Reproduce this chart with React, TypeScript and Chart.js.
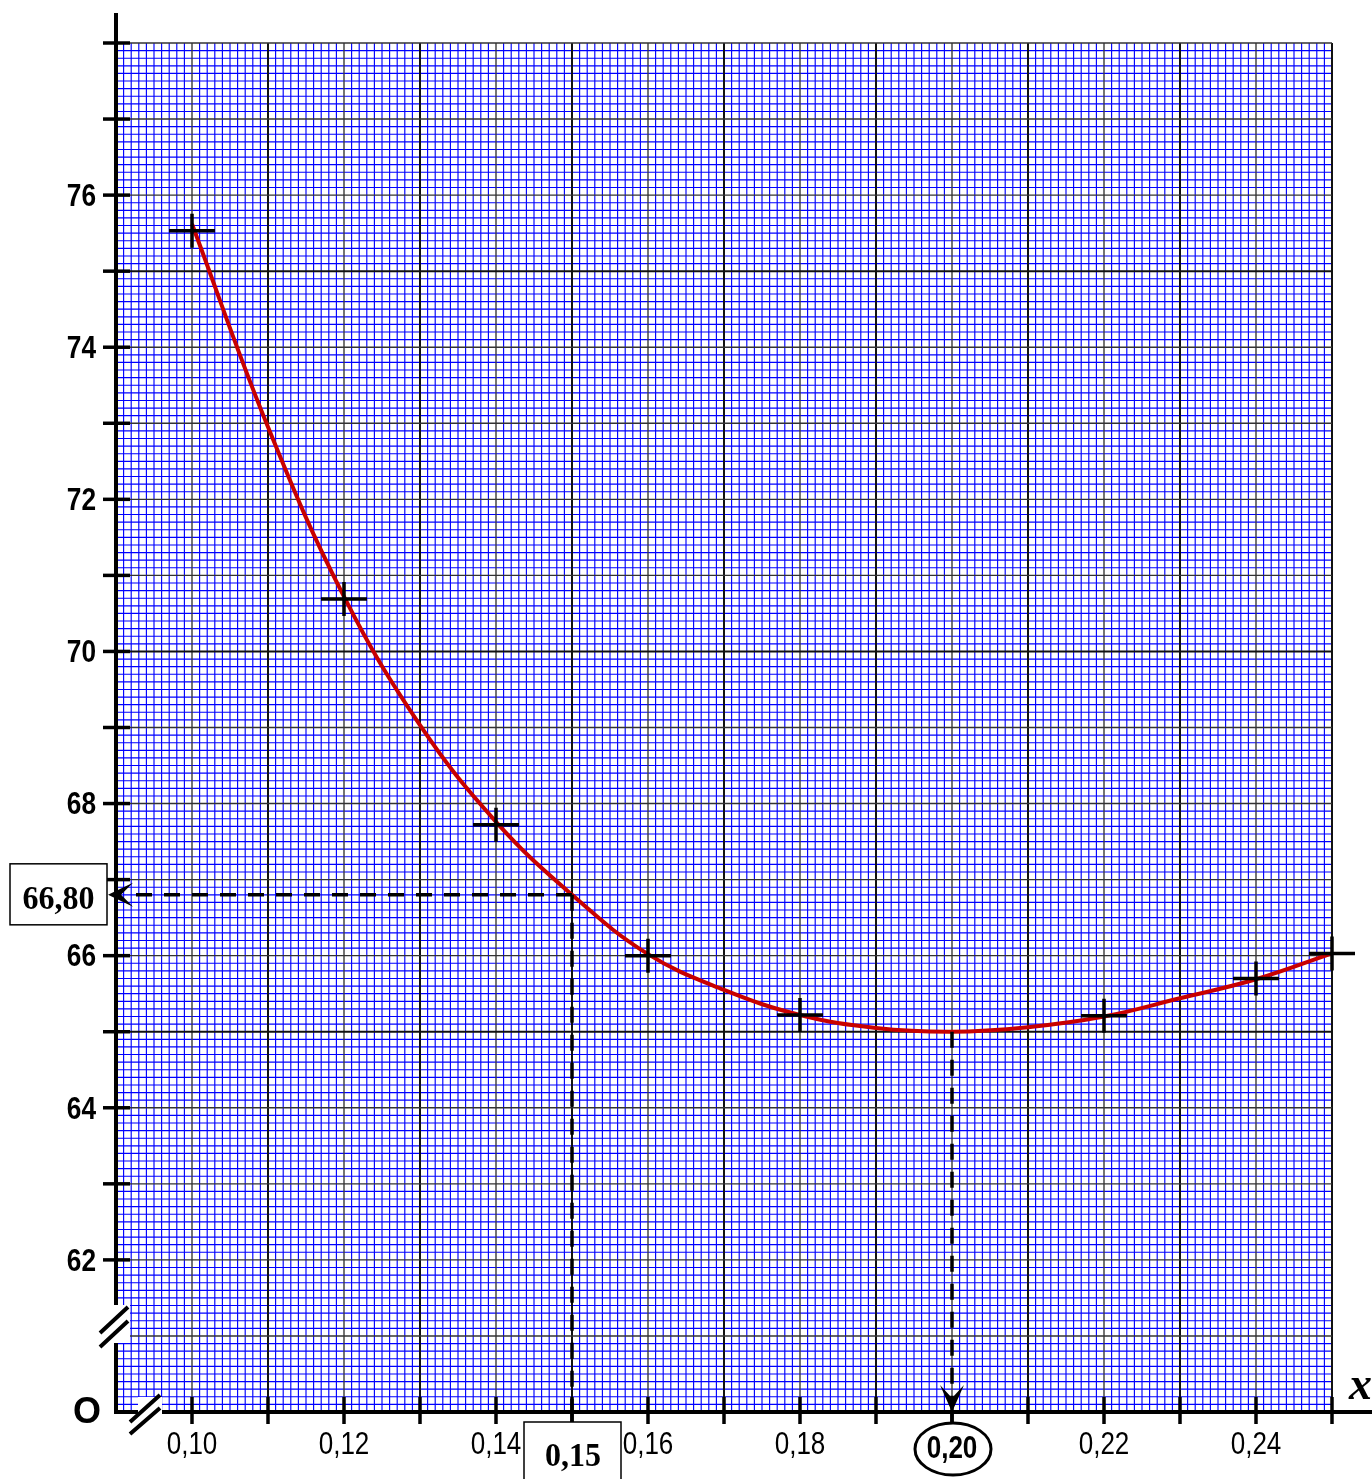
import { useEffect, useRef } from "react";
import { Chart, registerables } from "chart.js";

Chart.register(...registerables);

// ---- data ----
const curveX = [0.10, 0.11, 0.12, 0.13, 0.14, 0.15, 0.16, 0.17, 0.18, 0.19, 0.20, 0.21, 0.22, 0.23, 0.24, 0.25];
const curveY = [75.62, 72.95, 70.72, 69.03, 67.76, 66.80, 66.02, 65.55, 65.22, 65.05, 65.00, 65.06, 65.20, 65.44, 65.69, 66.03];

const pointX = [0.10, 0.12, 0.14, 0.16, 0.18, 0.22, 0.24, 0.25];
const pointY = [75.53, 70.69, 67.72, 66.00, 65.22, 65.21, 65.70, 66.03];

const yTickValues = [62, 64, 66, 68, 70, 72, 74, 76];
const yTickLabels = ["62", "64", "66", "68", "70", "72", "74", "76"];
const xTickValues = [0.10, 0.12, 0.14, 0.16, 0.18, 0.22, 0.24];
const xTickLabels = ["0,10", "0,12", "0,14", "0,16", "0,18", "0,22", "0,24"];

const readX = 0.15;
const readY = 66.8;
const readXLabel = "0,15";
const readYLabel = "66,80";
const minX = 0.20;
const minY = 65.0;
const minXLabel = "0,20";

const X_MIN = 0.09;
const X_MAX = 0.25;
const Y_MIN = 60;
const Y_MAX = 78;

const SANS = "'Liberation Sans', Arial, sans-serif";
const SERIF = "'Liberation Serif', 'Times New Roman', serif";

function narrowText(
  ctx: CanvasRenderingContext2D,
  text: string,
  x: number,
  y: number,
  font: string,
  sx: number,
  align: CanvasTextAlign
) {
  ctx.save();
  ctx.font = font;
  ctx.textAlign = align;
  ctx.textBaseline = "middle";
  ctx.translate(x, y);
  ctx.scale(sx, 1);
  ctx.fillText(text, 0, 0);
  ctx.restore();
}

function chevron(ctx: CanvasRenderingContext2D, tx: number, ty: number, dir: "left" | "down") {
  ctx.save();
  ctx.fillStyle = "#000";
  ctx.beginPath();
  if (dir === "left") {
    ctx.moveTo(tx, ty);
    ctx.lineTo(tx + 25, ty - 12);
    ctx.lineTo(tx + 13, ty);
    ctx.lineTo(tx + 25, ty + 12);
  } else {
    ctx.moveTo(tx, ty);
    ctx.lineTo(tx - 12, ty - 27);
    ctx.lineTo(tx, ty - 14);
    ctx.lineTo(tx + 12, ty - 27);
  }
  ctx.closePath();
  ctx.fill();
  ctx.restore();
}

const paperPlugin = {
  id: "paper",
  beforeDatasetsDraw(chart: any) {
    const ctx: CanvasRenderingContext2D = chart.ctx;
    const xs = chart.scales.x;
    const ys = chart.scales.y;
    const { left, right, top, bottom } = chart.chartArea;
    ctx.save();
    ctx.fillStyle = "#fff";
    ctx.fillRect(left, top, right - left, bottom - top);
    // fine blue grid
    ctx.strokeStyle = "rgb(0,0,255)";
    ctx.lineWidth = 1.15;
    const nx = Math.round((X_MAX - X_MIN) * 1000);
    for (let i = 0; i <= nx; i++) {
      if (i % 10 === 0) continue;
      const px = xs.getPixelForValue(X_MIN + i / 1000);
      ctx.beginPath();
      ctx.moveTo(px, top);
      ctx.lineTo(px, bottom);
      ctx.stroke();
    }
    const ny = Math.round((Y_MAX - Y_MIN) * 10);
    for (let i = 0; i <= ny; i++) {
      if (i % 10 === 0) continue;
      const py = ys.getPixelForValue(Y_MIN + i / 10);
      ctx.beginPath();
      ctx.moveTo(left, py);
      ctx.lineTo(right, py);
      ctx.stroke();
    }
    // black unit lines
    for (let i = 0; i <= nx; i += 10) {
      const px = xs.getPixelForValue(X_MIN + i / 1000);
      const odd = (i / 10) % 2 === 0;
      ctx.strokeStyle = odd ? "#111" : "#3a3a3a";
      ctx.lineWidth = odd ? 2 : 1.4;
      ctx.beginPath();
      ctx.moveTo(px, top);
      ctx.lineTo(px, bottom);
      ctx.stroke();
    }
    for (let i = 0; i <= ny; i += 10) {
      const v = Y_MIN + i / 10;
      const py = ys.getPixelForValue(v);
      const strong = v % 5 === 0;
      ctx.strokeStyle = strong ? "#111" : "#333";
      ctx.lineWidth = strong ? 2 : 1.4;
      ctx.beginPath();
      ctx.moveTo(left, py);
      ctx.lineTo(right, py);
      ctx.stroke();
    }
    ctx.restore();
  },
  afterDatasetsDraw(chart: any) {
    const ctx: CanvasRenderingContext2D = chart.ctx;
    const xs = chart.scales.x;
    const ys = chart.scales.y;
    const { left, bottom } = chart.chartArea;
    const W = chart.width;
    ctx.save();

    // crosses on measured points
    const meta = chart.getDatasetMeta(1);
    ctx.strokeStyle = "#000";
    ctx.lineWidth = 3.5;
    meta.data.forEach((el: any) => {
      ctx.beginPath();
      ctx.moveTo(el.x - 23, el.y);
      ctx.lineTo(el.x + 23, el.y);
      ctx.moveTo(el.x, el.y - 17);
      ctx.lineTo(el.x, el.y + 17);
      ctx.stroke();
    });

    // dashed reading lines
    const rx = xs.getPixelForValue(readX);
    const ry = ys.getPixelForValue(readY);
    const mx = xs.getPixelForValue(minX);
    const my = ys.getPixelForValue(minY);
    ctx.setLineDash([16, 12]);
    ctx.lineWidth = 3.5;
    ctx.beginPath();
    ctx.moveTo(rx, ry);
    ctx.lineTo(left + 12, ry);
    ctx.moveTo(rx, ry);
    ctx.lineTo(rx, bottom);
    ctx.moveTo(mx, my);
    ctx.lineTo(mx, bottom - 14);
    ctx.stroke();
    ctx.setLineDash([]);

    // axes
    ctx.lineWidth = 4;
    ctx.beginPath();
    ctx.moveTo(left, 13);
    ctx.lineTo(left, bottom + 2);
    ctx.moveTo(left - 2, bottom);
    ctx.lineTo(W, bottom);
    ctx.stroke();

    // y ticks every unit
    ctx.lineWidth = 3.5;
    for (let v = 62; v <= Y_MAX; v++) {
      const py = ys.getPixelForValue(v);
      ctx.beginPath();
      ctx.moveTo(left - 13, py);
      ctx.lineTo(left + 14, py);
      ctx.stroke();
    }
    // x ticks every 0.01
    for (let i = 10; i <= 25; i++) {
      const px = xs.getPixelForValue(i / 100);
      ctx.beginPath();
      ctx.moveTo(px, bottom - 15);
      ctx.lineTo(px, bottom + 12);
      ctx.stroke();
    }
    // connectors to boxes
    ctx.beginPath();
    ctx.moveTo(rx, bottom);
    ctx.lineTo(rx, bottom + 11);
    ctx.moveTo(mx, bottom);
    ctx.lineTo(mx, bottom + 12);
    ctx.stroke();

    // axis breaks
    ctx.fillStyle = "#fff";
    ctx.fillRect(left - 4, 1305, 18, 38);
    ctx.fillRect(138, bottom - 15, 24, 19);
    ctx.lineWidth = 4;
    ctx.beginPath();
    ctx.moveTo(100, 1333);
    ctx.lineTo(128, 1307);
    ctx.moveTo(100, 1347);
    ctx.lineTo(128, 1321);
    ctx.moveTo(130, 1422);
    ctx.lineTo(160, 1395);
    ctx.moveTo(130, 1434);
    ctx.lineTo(160, 1408);
    ctx.stroke();

    // arrowheads
    chevron(ctx, left - 8, ry, "left");
    chevron(ctx, mx, bottom, "down");

    // tick labels
    ctx.fillStyle = "#000";
    yTickValues.forEach((v, i) => {
      narrowText(ctx, yTickLabels[i], left - 20, ys.getPixelForValue(v) + 2, `bold 32px ${SANS}`, 0.82, "right");
    });
    xTickValues.forEach((v, i) => {
      narrowText(ctx, xTickLabels[i], xs.getPixelForValue(v), bottom + 33, `31px ${SANS}`, 0.84, "center");
    });

    // origin
    narrowText(ctx, "O", 87, bottom + 1, `bold 36px ${SANS}`, 1, "center");

    // x label
    ctx.textAlign = "left";
    ctx.textBaseline = "alphabetic";
    ctx.font = `italic bold 46px ${SERIF}`;
    ctx.fillText("x", 1349, bottom - 13);

    // 66,80 box
    ctx.lineWidth = 1.5;
    ctx.fillStyle = "#fff";
    ctx.fillRect(10, ry - 31, 97, 61);
    ctx.strokeRect(10, ry - 31, 97, 61);
    ctx.fillStyle = "#000";
    narrowText(ctx, readYLabel, 58.5, ry + 6, `bold 33px ${SERIF}`, 0.97, "center");

    // 0,15 box
    ctx.fillStyle = "#fff";
    ctx.fillRect(rx - 48, bottom + 10, 97, 70);
    ctx.strokeRect(rx - 48, bottom + 10, 97, 70);
    ctx.fillStyle = "#000";
    narrowText(ctx, readXLabel, rx + 1, bottom + 45, `bold 33px ${SERIF}`, 0.97, "center");

    // 0,20 ellipse
    ctx.lineWidth = 3;
    ctx.beginPath();
    ctx.ellipse(mx + 1, bottom + 37, 38, 26, 0, 0, Math.PI * 2);
    ctx.stroke();
    narrowText(ctx, minXLabel, mx, bottom + 37, `bold 31px ${SANS}`, 0.84, "center");

    ctx.restore();
  },
};

export default function App() {
  const ref = useRef<HTMLCanvasElement | null>(null);
  useEffect(() => {
    document.body.style.margin = "0";
    const canvas = ref.current;
    if (!canvas) return;
    const chart = new Chart(canvas, {
      type: "line",
      data: {
        datasets: [
          {
            label: "curve",
            data: curveX.map((x, i) => ({ x, y: curveY[i] })),
            borderColor: "#c80000",
            borderWidth: 4,
            pointRadius: 0,
            tension: 0.4,
            fill: false,
            clip: false as any,
          },
          {
            label: "points",
            data: pointX.map((x, i) => ({ x, y: pointY[i] })),
            showLine: false,
            pointRadius: 0,
            borderColor: "#000",
            clip: false as any,
          },
        ],
      },
      options: {
        animation: false,
        responsive: false,
        maintainAspectRatio: false,
        layout: { padding: { left: 116, right: 40, top: 43, bottom: 67 } },
        plugins: { legend: { display: false }, tooltip: { enabled: false } },
        scales: {
          x: { type: "linear", min: X_MIN, max: X_MAX, display: false },
          y: { type: "linear", min: Y_MIN, max: Y_MAX, display: false },
        },
      },
      plugins: [paperPlugin],
    });
    return () => chart.destroy();
  }, []);
  return (
    <div style={{ position: "absolute", left: 0, top: 0, width: 1372, height: 1479 }}>
      <canvas ref={ref} width={1372} height={1479} style={{ display: "block", width: 1372, height: 1479 }} />
    </div>
  );
}
